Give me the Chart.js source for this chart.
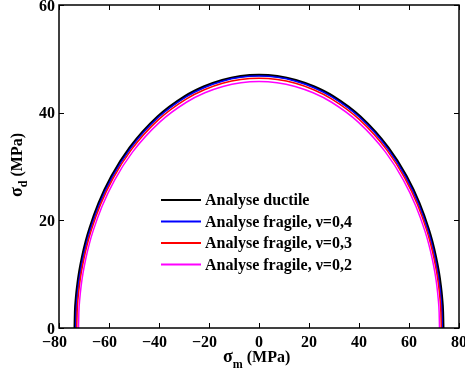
<!DOCTYPE html>
<html>
<head>
<meta charset="utf-8">
<script src="https://cdn.jsdelivr.net/npm/chart.js@4/dist/chart.umd.min.js"></script>
<style>
  html, body { margin: 0; padding: 0; background: #fff; }
</style>
</head>
<body>
<canvas id="chart" width="465" height="378"></canvas>
<script>
// values (MPa)
var sigmaM_ductile = [-73.7, -73.55, -73.18, -72.59, -71.86, -70.75, -69.28, -67.80, -64.12, -58.96, -51.59, -40.54, -29.48, -22.11, -14.74, -7.37, 0,
                      7.37, 14.74, 22.11, 29.48, 40.54, 51.59, 58.96, 64.12, 67.80, 69.28, 70.75, 71.86, 72.59, 73.18, 73.55, 73.7];
var sigmaD_ductile = [0, 2.97, 5.55, 8.11, 10.44, 13.16, 16.04, 18.42, 23.18, 28.2, 33.56, 39.25, 43.08, 44.83, 46.05, 46.77, 47.0,
                      46.77, 46.05, 44.83, 43.08, 39.25, 33.56, 28.2, 23.18, 18.42, 16.04, 13.16, 10.44, 8.11, 5.55, 2.97, 0];

var sigmaM_nu04 = [-73.3, -73.15, -72.79, -72.20, -71.47, -70.37, -68.90, -67.44, -63.77, -58.64, -51.31, -40.32, -29.32, -21.99, -14.66, -7.33, 0,
                   7.33, 14.66, 21.99, 29.32, 40.32, 51.31, 58.64, 63.77, 67.44, 68.90, 70.37, 71.47, 72.20, 72.79, 73.15, 73.3];
var sigmaD_nu04 = [0, 2.96, 5.53, 8.08, 10.40, 13.10, 15.97, 18.34, 23.08, 28.08, 33.42, 39.09, 42.89, 44.64, 45.85, 46.57, 46.8,
                   46.57, 45.85, 44.64, 42.89, 39.09, 33.42, 28.08, 23.08, 18.34, 15.97, 13.10, 10.40, 8.08, 5.53, 2.96, 0];

var sigmaM_nu03 = [-72.9, -72.75, -72.39, -71.81, -71.08, -69.98, -68.53, -67.07, -63.42, -58.32, -51.03, -40.10, -29.16, -21.87, -14.58, -7.29, 0,
                   7.29, 14.58, 21.87, 29.16, 40.10, 51.03, 58.32, 63.42, 67.07, 68.53, 69.98, 71.08, 71.81, 72.39, 72.75, 72.9];
var sigmaD_nu03 = [0, 2.93, 5.48, 8.01, 10.31, 12.99, 15.83, 18.18, 22.88, 27.84, 33.13, 38.75, 42.53, 44.26, 45.46, 46.17, 46.4,
                   46.17, 45.46, 44.26, 42.53, 38.75, 33.13, 27.84, 22.88, 18.18, 15.83, 12.99, 10.31, 8.01, 5.48, 2.93, 0];

var sigmaM_nu02 = [-72.2, -72.06, -71.69, -71.12, -70.40, -69.31, -67.87, -66.42, -62.81, -57.76, -50.54, -39.71, -28.88, -21.66, -14.44, -7.22, 0,
                   7.22, 14.44, 21.66, 28.88, 39.71, 50.54, 57.76, 62.81, 66.42, 67.87, 69.31, 70.40, 71.12, 71.69, 72.06, 72.2];
var sigmaD_nu02 = [0, 2.89, 5.41, 7.91, 10.18, 12.82, 15.63, 17.95, 22.58, 27.48, 32.71, 38.25, 41.98, 43.69, 44.87, 45.57, 45.8,
                   45.57, 44.87, 43.69, 41.98, 38.25, 32.71, 27.48, 22.58, 17.95, 15.63, 12.82, 10.18, 7.91, 5.41, 2.89, 0];

var seriesLabels = ["Analyse ductile", "Analyse fragile, \u03bd=0,4", "Analyse fragile, \u03bd=0,3", "Analyse fragile, \u03bd=0,2"];
var xTicks = [-80, -60, -40, -20, 0, 20, 40, 60, 80];
var yTicks = [0, 20, 40, 60];

var FONT = "'Liberation Serif', 'Times New Roman', serif";

function toPoints(xs, ys) {
    var pts = [];
    for (var i = 0; i < xs.length; i++) {
        pts.push({x: xs[i], y: ys[i]});
    }
    return pts;
}

function curve(label, xs, ys, color, width, order) {
    return {
        label: label,
        data: toPoints(xs, ys),
        borderColor: color,
        backgroundColor: color,
        borderWidth: width,
        showLine: true,
        pointRadius: 0,
        cubicInterpolationMode: 'monotone',
        order: order
    };
}

function tickText(v) {
    return v < 0 ? '\u2212' + Math.abs(v) : String(v);
}

// box, inward ticks, tick labels, legend and axis titles
var decorations = {
    id: 'decorations',
    afterDraw: function(chart) {
        var ctx = chart.ctx;
        var a = chart.chartArea;
        var xs = chart.scales.x, ys = chart.scales.y;
        var tl = 5;

        ctx.save();
        ctx.strokeStyle = '#000';
        ctx.lineWidth = 1.5;
        ctx.strokeRect(a.left, a.top, a.right - a.left, a.bottom - a.top);

        ctx.lineWidth = 1;
        ctx.beginPath();
        xTicks.forEach(function(v) {
            var px = Math.round(xs.getPixelForValue(v)) + 0.5;
            ctx.moveTo(px, a.bottom); ctx.lineTo(px, a.bottom - tl);
            ctx.moveTo(px, a.top); ctx.lineTo(px, a.top + tl);
        });
        yTicks.forEach(function(v) {
            var py = Math.round(ys.getPixelForValue(v)) + 0.5;
            ctx.moveTo(a.left, py); ctx.lineTo(a.left + tl, py);
            ctx.moveTo(a.right, py); ctx.lineTo(a.right - tl, py);
        });
        ctx.stroke();

        // tick labels
        ctx.fillStyle = '#000';
        ctx.font = 'bold 16px ' + FONT;
        ctx.textBaseline = 'alphabetic';
        ctx.textAlign = 'center';
        xTicks.forEach(function(v) {
            var px = xs.getPixelForValue(v) - (v < 0 ? 4.5 : 0);
            ctx.fillText(tickText(v), px, a.bottom + 18.5);
        });
        ctx.textAlign = 'right';
        yTicks.forEach(function(v) {
            ctx.fillText(tickText(v), a.left - 4, ys.getPixelForValue(v) + 5.5);
        });

        // legend
        var lx = 161, ly = 200, step = 21.5;
        ctx.textBaseline = 'middle';
        ctx.textAlign = 'left';
        chart.data.datasets.forEach(function(ds, i) {
            var y = ly + i * step;
            ctx.strokeStyle = ds.borderColor;
            ctx.lineWidth = 2;
            ctx.beginPath();
            ctx.moveTo(lx, y); ctx.lineTo(lx + 40, y);
            ctx.stroke();
            ctx.fillStyle = '#000';
            ctx.fillText(ds.label, lx + 44, y + 1);
        });

        // x title: sigma_m (MPa)
        ctx.fillStyle = '#000';
        ctx.textBaseline = 'alphabetic';
        var tx = 223, tyb = 362;
        ctx.font = 'bold 18px ' + FONT;
        ctx.fillText('\u03c3', tx, tyb);
        tx += ctx.measureText('\u03c3').width;
        ctx.font = 'bold 12px ' + FONT;
        ctx.fillText('m', tx, tyb + 6);
        tx += ctx.measureText('m').width;
        ctx.font = 'bold 16px ' + FONT;
        ctx.fillText(' (MPa)', tx, tyb);

        // y title: sigma_d (MPa), rotated
        ctx.translate(22, 197);
        ctx.rotate(-Math.PI / 2);
        var ry = 0;
        ctx.font = 'bold 18px ' + FONT;
        ctx.fillText('\u03c3', ry, 0);
        ry += ctx.measureText('\u03c3').width;
        ctx.font = 'bold 12px ' + FONT;
        ctx.fillText('d', ry, 5);
        ry += ctx.measureText('d').width;
        ctx.font = 'bold 16px ' + FONT;
        ctx.fillText(' (MPa)', ry, 0);
        ctx.restore();
    }
};

var chart = new Chart(document.getElementById('chart').getContext('2d'), {
    type: 'scatter',
    data: {
        datasets: [
            curve(seriesLabels[0], sigmaM_ductile, sigmaD_ductile, '#000000', 2.5, 4),
            curve(seriesLabels[1], sigmaM_nu04, sigmaD_nu04, '#0000ff', 1.5, 3),
            curve(seriesLabels[2], sigmaM_nu03, sigmaD_nu03, '#ff0000', 1.5, 2),
            curve(seriesLabels[3], sigmaM_nu02, sigmaD_nu02, '#ff00ff', 1.5, 1)
        ]
    },
    options: {
        responsive: false,
        animation: false,
        devicePixelRatio: 1,
        layout: { padding: { left: 0, top: 5, right: 6, bottom: 0 } },
        plugins: {
            legend: { display: false },
            tooltip: { enabled: false }
        },
        scales: {
            x: {
                type: 'linear',
                min: -80,
                max: 80,
                grid: { display: false },
                border: { display: false },
                ticks: { display: false },
                afterFit: function(s) {
                    s.height = 50;
                    s.paddingLeft = 0;
                    s.paddingRight = 0;
                }
            },
            y: {
                type: 'linear',
                min: 0,
                max: 60,
                grid: { display: false },
                border: { display: false },
                ticks: { display: false },
                afterFit: function(s) {
                    s.width = 59;
                    s.paddingTop = 0;
                    s.paddingBottom = 0;
                }
            }
        }
    },
    plugins: [decorations]
});
</script>
</body>
</html>
